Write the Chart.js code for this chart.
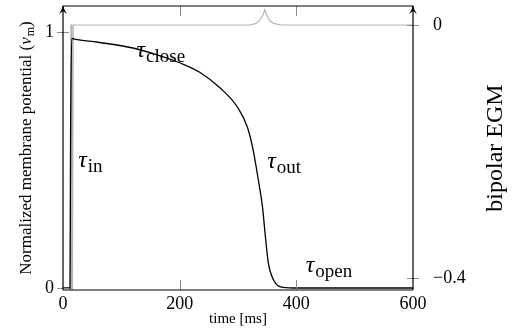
<!DOCTYPE html>
<html>
<head>
<meta charset="utf-8">
<script src="https://cdn.jsdelivr.net/npm/chart.js@4.4.1/dist/chart.umd.min.js"></script>
<style>
  html, body { margin: 0; padding: 0; background: #fff; }
  #wrap { width: 515px; height: 335px; }
</style>
</head>
<body>
<div id="wrap"><canvas id="chart" width="515" height="335"></canvas></div>
<script>
// normalized membrane potential (left axis)
const apTime  = [0, 12, 13, 15, 20, 60, 120, 160, 201, 235, 270, 299, 316, 326, 335, 342, 347, 352, 361, 373, 395, 600];
const apValue = [0, 0, 0.6, 0.975, 0.972, 0.96, 0.9375, 0.912, 0.879, 0.842, 0.78, 0.707, 0.629, 0.539, 0.42, 0.316, 0.2, 0.098, 0.031, 0.004, 0, 0];

// bipolar EGM (right axis)
const egmTime  = [0, 13, 13.5, 15, 15.5, 17, 17.5, 320, 330, 338, 343, 346, 349, 354, 362, 375, 600];
const egmValue = [-0.6, -0.6, 0, 0, -0.6, -0.6, 0, 0, 0.002, 0.008, 0.016, 0.024, 0.016, 0.007, 0.002, 0, 0];

// tick labels
const timeTicks = [0, 200, 400, 600];
const apTicks = [0, 1];
const egmTicks = [-0.4, 0];

// tau labels, anchored in data units (time, potential)
const tauLabels = [
    { sub: "in",    t: 26,  v: 0.473 },
    { sub: "close", t: 126, v: 0.902 },
    { sub: "out",   t: 350, v: 0.469 },
    { sub: "open",  t: 416, v: 0.0625 }
];

const SERIF = "'Liberation Serif', 'DejaVu Serif', serif";

function toPoints(xs, ys) {
    return xs.map((x, i) => ({ x: x, y: ys[i] }));
}

// no auto padding from tick labels, boxes are sized by hand
function fixBox(size) {
    return s => {
        if (s.isHorizontal()) s.height = size; else s.width = size;
        s.paddingTop = 0; s.paddingBottom = 0;
        s.paddingLeft = 0; s.paddingRight = 0;
    };
}

// axes frame, arrows, ticks, titles and tau labels
const framePlugin = {
    id: "frame",
    afterDraw(chart) {
        const c = chart.ctx;
        const a = chart.chartArea;
        const sx = chart.scales.x, sy = chart.scales.y, sy1 = chart.scales.y1;
        c.save();

        // ticks (gray)
        c.strokeStyle = "#8c8c8c";
        c.lineWidth = 1;
        c.beginPath();
        timeTicks.forEach(v => {
            if (v === sx.min || v === sx.max) return;
            const px = Math.round(sx.getPixelForValue(v)) + 0.5;
            c.moveTo(px, a.bottom); c.lineTo(px, a.bottom - 10);
            c.moveTo(px, a.top); c.lineTo(px, a.top + 10);
        });
        apTicks.forEach(v => {
            const py = Math.round(sy.getPixelForValue(v)) + 0.5;
            c.moveTo(a.left - 6, py); c.lineTo(a.left + 6, py);
        });
        egmTicks.forEach(v => {
            const py = Math.round(sy1.getPixelForValue(v)) + 0.5;
            c.moveTo(a.right - 6, py); c.lineTo(a.right + 6, py);
        });
        c.stroke();

        // frame
        c.strokeStyle = "#000";
        c.lineWidth = 1.2;
        c.beginPath();
        c.moveTo(a.left, a.top); c.lineTo(a.right, a.top);
        c.moveTo(a.left, a.bottom); c.lineTo(a.right, a.bottom);
        c.moveTo(a.left, a.bottom); c.lineTo(a.left, a.top);
        c.moveTo(a.right, a.bottom); c.lineTo(a.right, a.top);
        c.stroke();

        // arrow heads
        c.fillStyle = "#000";
        [a.left, a.right].forEach(x => {
            c.beginPath();
            c.moveTo(x, a.top - 1);
            c.quadraticCurveTo(x - 1, a.top + 4, x - 4, a.top + 8);
            c.lineTo(x, a.top + 5);
            c.lineTo(x + 4, a.top + 8);
            c.quadraticCurveTo(x + 1, a.top + 4, x, a.top - 1);
            c.fill();
        });

        // x title
        c.font = "15px " + SERIF;
        c.textAlign = "center";
        c.textBaseline = "middle";
        c.fillText("time [ms]", (a.left + a.right) / 2, 319);

        // left title with italic v and subscript m
        const midY = (a.top + a.bottom) / 2;
        c.save();
        c.translate(25, midY);
        c.rotate(-Math.PI / 2);
        c.textAlign = "left";
        c.textBaseline = "alphabetic";
        const p1 = "Normalized membrane potential (";
        const fMain = "17px " + SERIF, fIt = "italic 17px " + SERIF, fSub = "12px " + SERIF;
        c.font = fMain; const w1 = c.measureText(p1).width;
        c.font = fIt; const w2 = c.measureText("v").width + 1;
        c.font = fSub; const w3 = c.measureText("m").width;
        c.font = fMain; const w4 = c.measureText(")").width;
        let x0 = -(w1 + w2 + w3 + w4) / 2;
        const base = 6;
        c.font = fMain; c.fillText(p1, x0, base); x0 += w1;
        c.font = fIt; c.fillText("v", x0, base); x0 += w2;
        c.font = fSub; c.fillText("m", x0, base + 3); x0 += w3;
        c.font = fMain; c.fillText(")", x0, base);
        c.restore();

        // right title
        c.save();
        c.translate(496, midY);
        c.rotate(-Math.PI / 2);
        c.font = "24px " + SERIF;
        c.textAlign = "center";
        c.textBaseline = "middle";
        c.fillText("bipolar EGM", 0, 0);
        c.restore();

        // tau labels
        c.textAlign = "left";
        c.textBaseline = "alphabetic";
        tauLabels.forEach(l => {
            const px = sx.getPixelForValue(l.t);
            const py = sy.getPixelForValue(l.v);
            c.font = "italic 24px " + SERIF;
            c.fillText("\u03c4", px, py);
            const w = c.measureText("\u03c4").width;
            c.font = "19px " + SERIF;
            c.fillText(l.sub, px + w + 1, py + 5);
        });

        c.restore();
    }
};

const tickFont = { family: SERIF, size: 18 };

const chart = new Chart(document.getElementById("chart").getContext("2d"), {
    type: "line",
    data: {
        datasets: [
            {
                label: "membrane potential",
                data: toPoints(apTime, apValue),
                yAxisID: "y",
                borderColor: "#000",
                borderWidth: 1.3,
                pointRadius: 0,
                cubicInterpolationMode: "monotone",
                order: 0
            },
            {
                label: "bipolar EGM",
                data: toPoints(egmTime, egmValue),
                yAxisID: "y1",
                borderColor: "#b3b3b3",
                borderWidth: 1.2,
                pointRadius: 0,
                tension: 0,
                order: 1
            }
        ]
    },
    options: {
        responsive: false,
        animation: false,
        devicePixelRatio: 1,
        layout: { padding: { top: 6, left: 0, right: 0, bottom: 0 } },
        plugins: { legend: { display: false }, tooltip: { enabled: false } },
        scales: {
            x: {
                type: "linear",
                min: 0,
                max: 600,
                afterBuildTicks: s => { s.ticks = timeTicks.map(v => ({ value: v })); },
                afterFit: fixBox(45),
                grid: { display: false, drawTicks: false },
                border: { display: false },
                ticks: { padding: 3, color: "#000", font: tickFont, maxRotation: 0, autoSkip: false }
            },
            y: {
                position: "left",
                min: -0.0078,
                max: 1.1016,
                afterBuildTicks: s => { s.ticks = apTicks.map(v => ({ value: v })); },
                afterFit: fixBox(63),
                grid: { display: false, drawTicks: false },
                border: { display: false },
                ticks: { padding: 9, color: "#000", font: tickFont, autoSkip: false }
            },
            y1: {
                position: "right",
                min: -0.419,
                max: 0.030,
                afterBuildTicks: s => { s.ticks = egmTicks.map(v => ({ value: v })); },
                afterFit: fixBox(102),
                grid: { display: false, drawTicks: false },
                border: { display: false },
                ticks: {
                    padding: 20, color: "#000", font: tickFont, autoSkip: false,
                    callback: v => (v < 0 ? "\u2212" + Math.abs(v) : String(v))
                }
            }
        }
    },
    plugins: [framePlugin]
});
</script>
</body>
</html>
